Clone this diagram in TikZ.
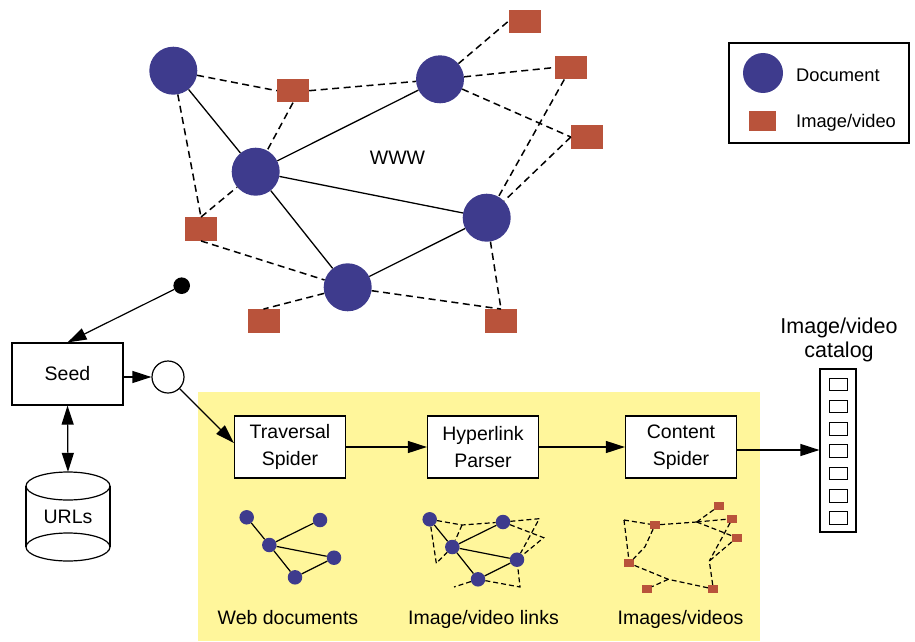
\documentclass[tikz,border=0pt]{standalone}
\usepackage{fontspec}
\setmainfont{Liberation Sans}
\usetikzlibrary{arrows.meta}
\definecolor{docblue}{RGB}{62,59,141}
\definecolor{imgred}{RGB}{185,83,59}
\definecolor{panelyellow}{RGB}{255,246,155}
\begin{document}
\begin{tikzpicture}[x=1pt,y=-1pt,
  doc/.style={circle,fill=docblue,inner sep=0pt,minimum size=48pt},
  img/.style={rectangle,fill=imgred,inner sep=0pt,minimum width=32pt,minimum height=23.5pt},
  sdoc/.style={circle,fill=docblue,inner sep=0pt,minimum size=14.5pt},
  simg/.style={rectangle,fill=imgred,inner sep=0pt,minimum width=10pt,minimum height=8pt},
  link/.style={line width=1.3pt},
  dlink/.style={line width=1.5pt,dash pattern=on 7pt off 4.5pt},
  slink/.style={line width=1.2pt},
  sdlink/.style={line width=1.2pt,dash pattern=on 5pt off 3pt},
  box/.style={draw,line width=1.2pt,fill=white,minimum width=111pt,minimum height=62pt,inner sep=0pt,align=center,font=\fontsize{19.5}{27.4}\selectfont},
  arr/.style={line width=1.2pt,-{Triangle[length=19pt,width=12pt]}},
  darr/.style={line width=1.2pt,{Triangle[length=19pt,width=12pt]}-{Triangle[length=19pt,width=12pt]}},
  lbl/.style={font=\fontsize{19.5}{24}\selectfont,inner sep=0pt},
  leglbl/.style={font=\fontsize{18.3}{22}\selectfont,inner sep=0pt,anchor=base west},
]
\useasboundingbox (0,0) rectangle (915,642);

% yellow panel
\node[fill=panelyellow,minimum width=562pt,minimum height=249pt,inner sep=0pt] (panel) at (479,516.5) {};

% ---------- WWW graph ----------
\node[doc] (D1) at (173.3,70.7) {};
\node[doc] (D2) at (440,79.3) {};
\node[doc] (D3) at (255.7,171.7) {};
\node[doc] (D4) at (486.7,217.7) {};
\node[doc] (D5) at (347.7,287.3) {};
\node[img] (S1) at (293,90.7) {};
\node[img] (S2) at (524.5,21.3) {};
\node[img] (S3) at (571,67.5) {};
\node[img] (S4) at (587,137) {};
\node[img] (S5) at (201,229) {};
\node[img] (S6) at (263.5,321) {};
\node[img] (S7) at (501,321) {};
\node[lbl] (www) at (397.5,158) {WWW};

\draw[link] (D1) -- (D3);
\draw[link] (D3) -- (D2);
\draw[link] (D3) -- (D4);
\draw[link] (D3) -- (D5);
\draw[link] (D5) -- (D4);

\draw[dlink] (D1) -- (S1.west);
\draw[dlink] (S1.east) -- (D2);
\draw[dlink] (S1.south) -- (D3);
\draw[dlink] (D2) -- (S2.west);
\draw[dlink] (D2) -- (S3.west);
\draw[dlink] (D2) -- (S4.west);
\draw[dlink] (S3) -- (D4);
\draw[dlink] (S4.west) -- (D4);
\draw[dlink] (D1) -- (S5.north);
\draw[dlink] (S5.north) -- (D3);
\draw[dlink] (S5.south) -- (D5);
\draw[dlink] (D5) -- (S6.north);
\draw[dlink] (D5) -- (S7.north);
\draw[dlink] (D4) -- (S7.north);

% ---------- legend ----------
\node[draw,line width=1.2pt,minimum width=180pt,minimum height=100pt,inner sep=0pt] (legend) at (819,93) {};
\node[circle,fill=docblue,inner sep=0pt,minimum size=40pt] (legdoc) at (763,73) {};
\node[rectangle,fill=imgred,inner sep=0pt,minimum width=27pt,minimum height=20pt] (legimg) at (762.5,120.7) {};
\node[leglbl] (legdoctxt) at (796,81.7) {Document};
\node[leglbl] (legimgtxt) at (796,127.3) {Image/video};

% ---------- seed, URLs ----------
\node[circle,fill=black,inner sep=0pt,minimum size=16.6pt] (dot) at (181.7,285.7) {};
\node[box] (seed) at (67.5,374) {Seed};
\node[circle,draw,line width=1.2pt,fill=white,inner sep=0pt,minimum size=32pt] (relay) at (168,377) {};
\node[lbl,minimum width=84pt,minimum height=89pt] (urls) at (68,516.5) {URLs};
\draw[line width=1.2pt] (68,486) ellipse [x radius=42pt, y radius=14pt];
\draw[line width=1.2pt] (68,547) ellipse [x radius=42pt, y radius=14pt];
\draw[line width=1.2pt] (26,486) -- (26,547) (110,486) -- (110,547);

\draw[arr] (dot) -- (seed.north);
\draw[arr] (seed.east |- relay) -- (relay);
\draw[darr] (seed.south) -- (urls.north);

% ---------- pipeline ----------
\node[box] (trav) at (290,447) {Traversal\\Spider};
\node[box] (hyp) at (483,447) {Hyperlink\\Parser};
\node[box] (cont) at (681,447) {Content\\Spider};

\node[draw,line width=1.2pt,minimum width=36pt,minimum height=163pt,inner sep=0pt] (cat) at (838,450.5) {};
\foreach \i in {0,...,6}
  \node[draw,line width=1pt,minimum width=18pt,minimum height=12.5pt,inner sep=0pt] (cb\i) at (838,{384.3+22.3*\i}) {};
\node[font=\fontsize{21.5}{24}\selectfont,align=center,inner sep=0pt] (catlbl) at (839,340) {Image/video\\catalog};

\draw[arr] (relay) -- ([yshift=4pt]trav.west);
\draw[arr] (trav) -- (hyp);
\draw[arr] (hyp) -- (cont);
\draw[arr] ([yshift=-3pt]cont.east) -- ([yshift=-3pt]cont.east -| cat.west);

% ---------- mini graph 1: web documents ----------
\node[sdoc] (a1) at (246.7,517.3) {};
\node[sdoc] (a2) at (320,520) {};
\node[sdoc] (a3) at (269.3,545) {};
\node[sdoc] (a4) at (334,557.7) {};
\node[sdoc] (a5) at (295,577.3) {};
\draw[slink] (a1) -- (a3) (a3) -- (a2) (a3) -- (a4) (a3) -- (a5) (a5) -- (a4);
\node[lbl,anchor=base] (webdocs) at (288,624) {Web documents};

% ---------- mini graph 2: image/video links ----------
\node[sdoc] (b1) at (429.7,519.3) {};
\node[sdoc] (b2) at (503,522) {};
\node[sdoc] (b3) at (452.3,547) {};
\node[sdoc] (b4) at (517,559.7) {};
\node[sdoc] (b5) at (478,579.3) {};
\coordinate (p1) at (462,525);
\coordinate (p3) at (539.3,518.7);
\coordinate (p4) at (543.7,537.7);
\coordinate (p5) at (436.3,563.3);
\coordinate (p6) at (454,587);
\coordinate (p7) at (520,587);
\draw[slink] (b1) -- (b3) (b3) -- (b2) (b3) -- (b4) (b3) -- (b5) (b5) -- (b4);
\draw[sdlink] (b1) -- (p1) -- (b2);
\draw[sdlink] (p1) -- (b3);
\draw[sdlink] (b2) -- (p3) -- (b4);
\draw[sdlink] (b2) -- (p4) -- (b4);
\draw[sdlink] (b1) -- (p5) -- (b3);
\draw[sdlink] (b5) -- (p6);
\draw[sdlink] (b5) -- (p7) -- (b4);
\node[lbl,anchor=base] (links) at (483.5,624) {Image/video links};

% ---------- mini graph 3: images/videos ----------
\coordinate (d1) at (624,520);
\coordinate (d2) at (696.7,522);
\coordinate (d3) at (645,546.7);
\coordinate (d4) at (709.3,561);
\coordinate (d5) at (668.3,579.3);
\node[simg] (q1) at (655,525) {};
\node[simg] (q2) at (719.3,505.7) {};
\node[simg] (q3) at (732.3,518.7) {};
\node[simg] (q4) at (736.7,537.7) {};
\node[simg] (q5) at (629.3,563.3) {};
\node[simg] (q6) at (646.7,589) {};
\node[simg] (q7) at (713.3,589) {};
\draw[sdlink] (d1) -- (q1) -- (d2);
\draw[sdlink] (d2) -- (q2);
\draw[sdlink] (d2) -- (q3) -- (d4);
\draw[sdlink] (d2) -- (q4) -- (d4);
\draw[sdlink] (d1) -- (q5);
\draw[sdlink] (q1) -- (d3) -- (q5);
\draw[sdlink] (q5) -- (d5) -- (q7) -- (d4);
\draw[sdlink] (d5) -- (q6);
\node[lbl,anchor=base] (media) at (680.5,624) {Images/videos};
\end{tikzpicture}
\end{document}
